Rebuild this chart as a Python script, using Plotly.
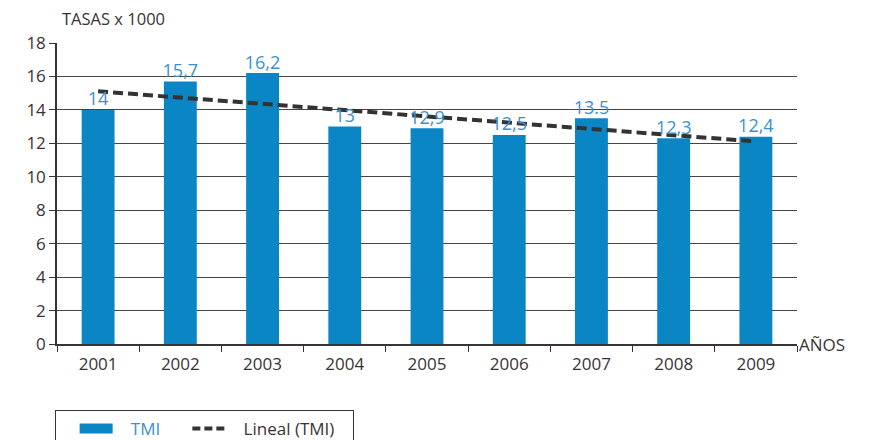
import numpy as np
import plotly.graph_objects as go

years = ["2001", "2002", "2003", "2004", "2005", "2006", "2007", "2008", "2009"]
tmi = [14, 15.7, 16.2, 13, 12.9, 12.5, 13.5, 12.3, 12.4]
labels = ["14", "15,7", "16,2", "13", "12,9", "12,5", "13.5", "12,3", "12,4"]

# Linear trend (Lineal) fitted from the TMI values
idx = np.arange(len(tmi))
slope, intercept = np.polyfit(idx, tmi, 1)
trend = list(slope * idx + intercept)

FONT = "Open Sans"
DARK = "#3a3333"
BLUE = "#0a86c4"
LBLUE = "#3b90d2"
NB = "&nbsp;"

fig = go.Figure()
fig.add_trace(go.Bar(
    x=years, y=tmi, name="TMI", marker=dict(color=BLUE, line=dict(width=0)),
    width=0.4, showlegend=False,
))
fig.add_trace(go.Scatter(
    x=years, y=trend, name="Lineal (TMI)", mode="lines", showlegend=False,
    line=dict(color="#333333", width=4, dash="10px,5px"),
))
fig.add_trace(go.Scatter(
    x=years, y=tmi, mode="text", text=labels, textposition="top center",
    textfont=dict(color=LBLUE, size=18, family=FONT), showlegend=False, cliponaxis=False,
))
# legend entries
fig.add_trace(go.Scatter(
    x=[None], y=[None], mode="lines",
    name=NB * 3 + '<span style="color:#3b90d2">TMI</span>' + NB * 5,
    line=dict(color=BLUE, width=15),
))
fig.add_trace(go.Scatter(
    x=[None], y=[None], mode="lines", name=NB * 3 + "Lineal (TMI)" + NB * 3,
    line=dict(color="#333333", width=4, dash="8px,4px"),
))

fig.update_layout(
    width=862, height=432,
    margin=dict(l=49, r=73, t=35, b=96, autoexpand=False),
    plot_bgcolor="white", paper_bgcolor="white",
    font=dict(family=FONT, color=DARK, size=16),
    showlegend=True,
    legend=dict(orientation="h", x=-0.003, y=-0.219, xanchor="left", yanchor="top",
                bordercolor=DARK, borderwidth=1, font=dict(size=17, color=DARK),
                itemwidth=33, traceorder="normal",
                title=dict(text=NB * 2, side="left", font=dict(size=17))),
    xaxis=dict(type="category", showgrid=False, showline=True, linecolor=DARK, linewidth=1.5,
               ticks="outside", tickson="boundaries", ticklen=6, tickcolor=DARK,
               tickfont=dict(size=17, color=DARK), range=[-0.5, 8.5], ticklabelstandoff=4),
    yaxis=dict(range=[0, 18], dtick=2, showgrid=True, gridcolor="#4a4343", gridwidth=1,
               showline=True, linecolor=DARK, linewidth=1.5, ticks="outside", ticklen=6,
               tickcolor=DARK, tickfont=dict(size=17, color=DARK), zeroline=False),
    annotations=[
        dict(text="TASAS x 1000", x=0, xref="paper", y=1.038, yref="paper",
             xanchor="left", yanchor="bottom", showarrow=False, font=dict(size=16.5, color=DARK), xshift=3),
        dict(text="AÑOS", x=1, xref="paper", y=0, yref="paper", xanchor="left",
             yanchor="middle", showarrow=False, font=dict(size=17, color=DARK), xshift=0),
    ],
)

fig.write_html("out.html")
